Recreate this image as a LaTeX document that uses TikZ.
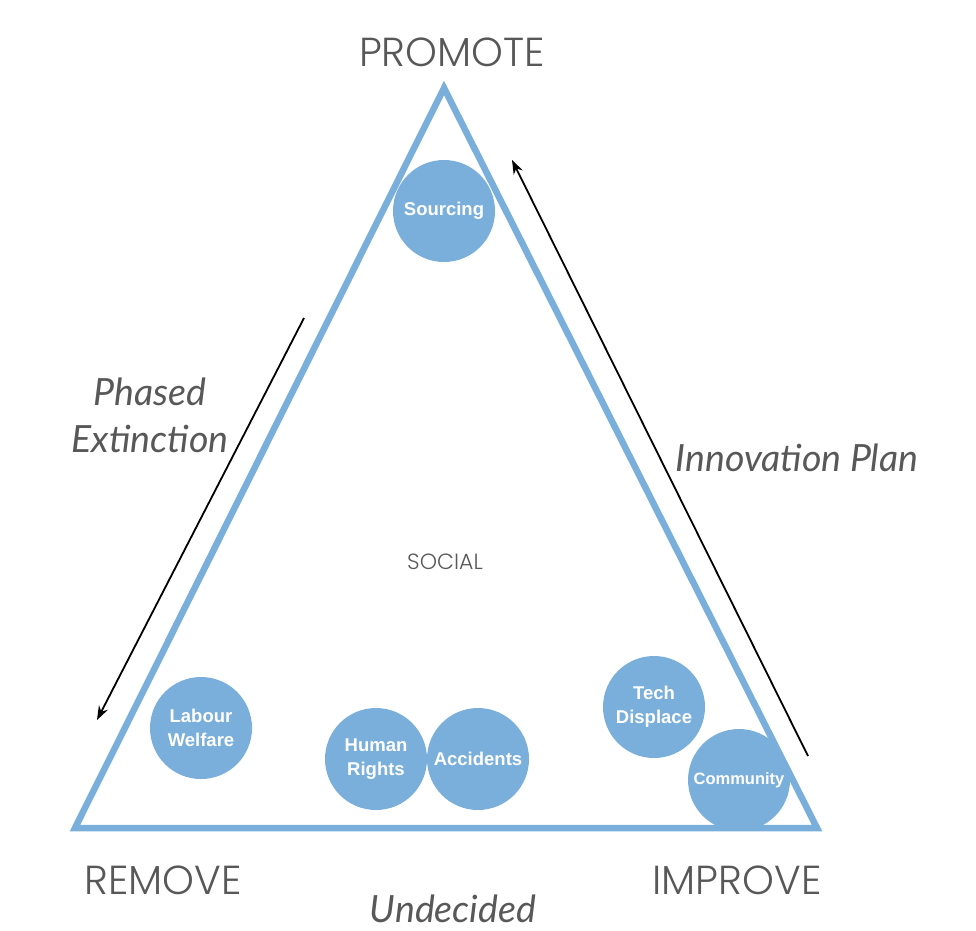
\documentclass[tikz,border=0pt]{standalone}
\usepackage{fontspec}
\setmainfont{Liberation Sans}
\newfontfamily\latofont{Lato}
\newfontfamily\capfont{Poppins Light}
\usetikzlibrary{arrows.meta}
\definecolor{tri}{HTML}{79AFDA}
\definecolor{txt}{HTML}{585858}
\tikzset{
  bubble/.style={circle, fill=tri, minimum size=102pt, inner sep=0pt, text=white, font=\fontsize{18.5}{24}\selectfont\bfseries, align=center},
  corner/.style={text=txt, font=\capfont\fontsize{40.5}{42}\selectfont, inner sep=0pt},
  flow/.style={text=txt, font=\latofont\itshape\fontsize{37.5}{47}\selectfont, align=center, inner sep=0pt},
  arr/.style={-{Stealth[length=14pt,width=10pt]}, line width=1.8pt, black}
}
\begin{document}
\begin{tikzpicture}[x=1pt,y=-1pt]
\useasboundingbox (0,0) rectangle (976,930);
\coordinate (A) at (444,88);
\coordinate (B) at (75,828);
\coordinate (C) at (817,828);
\draw[tri, line width=6.5pt, line join=miter] (A) -- (B) -- (C) -- cycle;
\node[bubble] (sourcing) at (444,211) {Sourcing};
\node[bubble] (labour) at (201,728) {Labour\\Welfare};
\node[bubble] (human) at (376,759) {Human\\Rights};
\node[bubble] (accidents) at (478,759) {Accidents};
\node[bubble] (tech) at (654,707) {Tech\\Displace};
\node[bubble, font=\fontsize{16.5}{20}\selectfont\bfseries] (community) at (739,780) {Community};
\node[corner] (promote) at (452,52) {PROMOTE};
\node[corner] (remove) at (163,880) {REMOVE};
\node[corner] (improve) at (737,880) {IMPROVE};
\node[text=txt, font=\capfont\fontsize{22}{24}\selectfont, inner sep=0pt] (social) at (445,562) {SOCIAL};
\node[flow] (phased) at (150,415) {Phased\\Extinction};
\node[flow] (innov) at (797,458) {Innovation Plan};
\node[flow] (undecided) at (453,909) {Undecided};
\coordinate (l1) at (304,318);
\coordinate (l2) at (97,720);
\coordinate (r1) at (808,756);
\coordinate (r2) at (512,160);
\draw[arr] (l1) -- (l2);
\draw[arr] (r1) -- (r2);
\end{tikzpicture}
\end{document}
